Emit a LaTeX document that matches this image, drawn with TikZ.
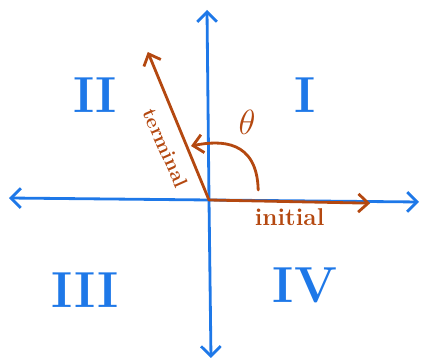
\documentclass[tikz,border=0pt]{standalone}
\usepackage{tikz}
\usetikzlibrary{arrows.meta, positioning}
\usepackage{xcolor}
\definecolor{axisblue}{RGB}{30,120,232}
\definecolor{sidebrown}{RGB}{180,72,16}

\begin{document}
\begin{tikzpicture}[
  axis/.style={line width=2pt, axisblue, line cap=round, -{Straight Barb[length=7pt, width=14pt, line width=2pt]}},
  side/.style={line width=2pt, sidebrown, line cap=round, -{Straight Barb[length=7pt, width=13pt, line width=2pt]}},
  quad/.style={axisblue, font=\fontsize{36}{36}\selectfont\bfseries},
  lbl/.style={sidebrown, font=\LARGE\bfseries}
]
\useasboundingbox (-5.225,-4.1) rectangle (5.4,5.0);

\coordinate (O) at (0,0);
\coordinate (left) at (-5.0,0.05);
\coordinate (right) at (5.25,-0.05);
\coordinate (top) at (-0.05,4.75);
\coordinate (bottom) at (0.05,-3.95);
\coordinate (init) at (4.03,-0.08);
\coordinate (term) at (-1.53,3.7);
\coordinate (arcstart) at (1.23,0.25);
\coordinate (arcend) at (-0.45,1.35);

% axes
\draw[axis] (O) -- (left);
\draw[axis] (O) -- (right);
\draw[axis] (O) -- (top);
\draw[axis] (O) -- (bottom);

% quadrants
\node[quad] (q1) at (2.4,2.63) {I};
\node[quad] (q2) at (-2.85,2.63) {II};
\node[quad] (q3) at (-3.1,-2.25) {III};
\node[quad] (q4) at (2.4,-2.13) {IV};

% angle sides
\draw[side] (O) -- (init) node[lbl, pos=0.5, below=1pt] (initlbl) {initial};
\draw[side] (O) -- (term);
\node[lbl, font=\Large\bfseries, rotate=-66] (termlbl) at (-1.08,1.3) {terminal};
\draw[side] (arcstart) .. controls (1.2,1.5) and (0.3,1.5) .. (arcend);
\node[lbl, font=\fontsize{28}{28}\selectfont] (theta) at (0.95,1.95) {$\theta$};
\end{tikzpicture}
\end{document}
